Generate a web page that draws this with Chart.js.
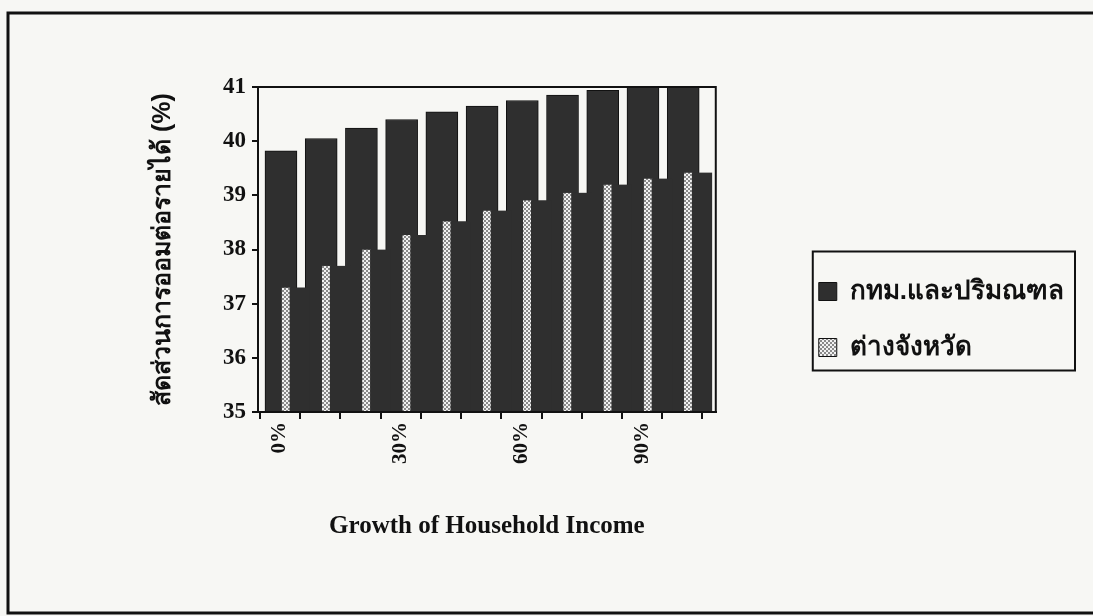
<!DOCTYPE html>
<html><head><meta charset="utf-8">
<script src="https://cdn.jsdelivr.net/npm/chart.js@4/dist/chart.umd.min.js"></script>
<style>html,body{margin:0;padding:0;background:#f7f7f4;} canvas{display:block;}</style>
</head><body><canvas id="c" width="1093" height="616"></canvas>
<script>
// ---- data ----
const categories = ['0%','10%','20%','30%','40%','50%','60%','70%','80%','90%','100%'];
const bangkokValues = [39.82, 40.05, 40.24, 40.40, 40.54, 40.65, 40.75, 40.85, 40.94, 41.01, 41.10];
const provinceValues = [37.30, 37.70, 38.00, 38.27, 38.52, 38.72, 38.91, 39.05, 39.20, 39.31, 39.42];
const seriesNames = ['กทม.และปริมณฑล', 'ต่างจังหวัด'];
const yTicks = [35, 36, 37, 38, 39, 40, 41];
const yTitle = 'สัดส่วนการออมต่อรายได้ (%)';
const xTitle = 'Growth of Household Income';
const labelEvery = 3;

// ---- styles ----
const INK = '#111';
const DARK = '#2f2f2f';
function checker() {
  const c = document.createElement('canvas'); c.width = 4; c.height = 4;
  const g = c.getContext('2d');
  g.fillStyle = '#f2f2f2'; g.fillRect(0, 0, 4, 4);
  g.fillStyle = '#8a8a8a'; g.fillRect(0, 0, 2, 2); g.fillRect(2, 2, 2, 2);
  return g.createPattern(c, 'repeat');
}
const pattern = checker();
const serif = 'Liberation Serif';

const framePlugin = {
  id: 'frame',
  afterDatasetsDraw(chart) {
    const {ctx, chartArea: a} = chart;
    ctx.save(); ctx.strokeStyle = INK; ctx.lineWidth = 2;
    ctx.strokeRect(a.left, a.top, a.right - a.left, a.bottom - a.top);
    ctx.restore();
  },
  afterDraw(chart) {
    const ctx = chart.ctx;
    ctx.save(); ctx.strokeStyle = INK; ctx.lineWidth = 3;
    ctx.strokeRect(8, 13, 1100, 600);
    const lg = chart.legend; const hb = lg.legendHitBoxes;
    if (hb && hb.length) {
      const left = Math.min(...hb.map(h => h.left)) - 6;
      const top = hb[0].top - 27;
      const last = hb[hb.length - 1];
      const bottom = last.top + last.height + 10;
      const right = lg.right + 1;
      ctx.lineWidth = 2;
      ctx.strokeRect(left, top, right - left, bottom - top);
    }
    ctx.restore();
  }
};

new Chart(document.getElementById('c'), {
  type: 'bar',
  data: {
    labels: categories,
    datasets: [
      { label: seriesNames[0], data: bangkokValues.map((v, i) => ({x: i, y: v})),
        xAxisID: 's1', yAxisID: 'y', backgroundColor: DARK, borderColor: INK, borderWidth: 1,
        borderSkipped: 'bottom', barThickness: 32, grouped: false, order: 1 },
      { label: seriesNames[1], data: provinceValues.map((v, i) => ({x: i, y: v})),
        xAxisID: 's2', yAxisID: 'y', backgroundColor: DARK, borderColor: pattern,
        borderWidth: {left: 8, top: 0, right: 0, bottom: 0}, borderSkipped: false,
        barThickness: 28, grouped: false, order: 0 }
    ]
  },
  options: {
    responsive: false, animation: false, devicePixelRatio: 1,
    layout: {padding: {left: 140, top: 87, right: 19, bottom: 64}},
    scales: {
      x: { type: 'linear', position: 'bottom', min: -0.547, max: 10.83, offset: false,
        afterBuildTicks: s => { s.ticks = categories.map((c, i) => ({value: i})); },
        afterFit: s => { s.height = 140; },
        grid: {offset: true, drawOnChartArea: false, drawTicks: true, tickLength: 7, color: INK, lineWidth: 2},
        border: {display: true, color: INK, width: 2},
        ticks: {autoSkip: false, minRotation: 90, maxRotation: 90, padding: 3, color: INK,
          font: {family: serif, size: 21, weight: 'bold'},
          callback: (v, i) => (i % labelEvery === 0 ? categories[i] : '')},
        title: {display: true, text: xTitle, color: INK,
          font: {family: serif, size: 25, weight: 'bold'}, padding: {top: 0, bottom: 10}} },
      s1: { type: 'linear', position: 'bottom', display: false, min: -0.571, max: 10.81, offset: false },
      s2: { type: 'linear', position: 'bottom', display: false, min: -0.944, max: 10.436, offset: false },
      y: { type: 'linear', position: 'left', min: 35, max: 41,
        afterBuildTicks: s => { s.ticks = yTicks.map(v => ({value: v})); },
        afterFit: s => { s.width = 118; },
        grid: {drawOnChartArea: false, drawTicks: true, tickLength: 6, color: INK, lineWidth: 2},
        border: {display: true, color: INK, width: 2},
        ticks: {padding: 6, color: INK, font: {family: serif, size: 23, weight: 'bold'}},
        title: {display: true, text: yTitle, color: INK, font: {size: 25, weight: 'bold'}, padding: {top: 8, bottom: 0}} },
      gap: { type: 'linear', position: 'right', display: true, grid: {display: false},
        border: {display: false}, ticks: {display: false}, afterFit: s => { s.width = 73; } }
    },
    plugins: {
      legend: { position: 'right', align: 'center', maxWidth: 420,
        labels: { boxWidth: 18, boxHeight: 18, padding: 30, color: INK, font: {size: 26, weight: 'bold'},
          sort: (a, b) => a.datasetIndex - b.datasetIndex,
          generateLabels: (chart) => {
            const items = Chart.defaults.plugins.legend.labels.generateLabels(chart);
            items.forEach(it => { it.fillStyle = it.datasetIndex === 1 ? pattern : DARK; it.strokeStyle = INK; it.lineWidth = 1; });
            return items;
          } } },
      tooltip: {enabled: false}
    }
  },
  plugins: [framePlugin]
});
</script></body></html>
